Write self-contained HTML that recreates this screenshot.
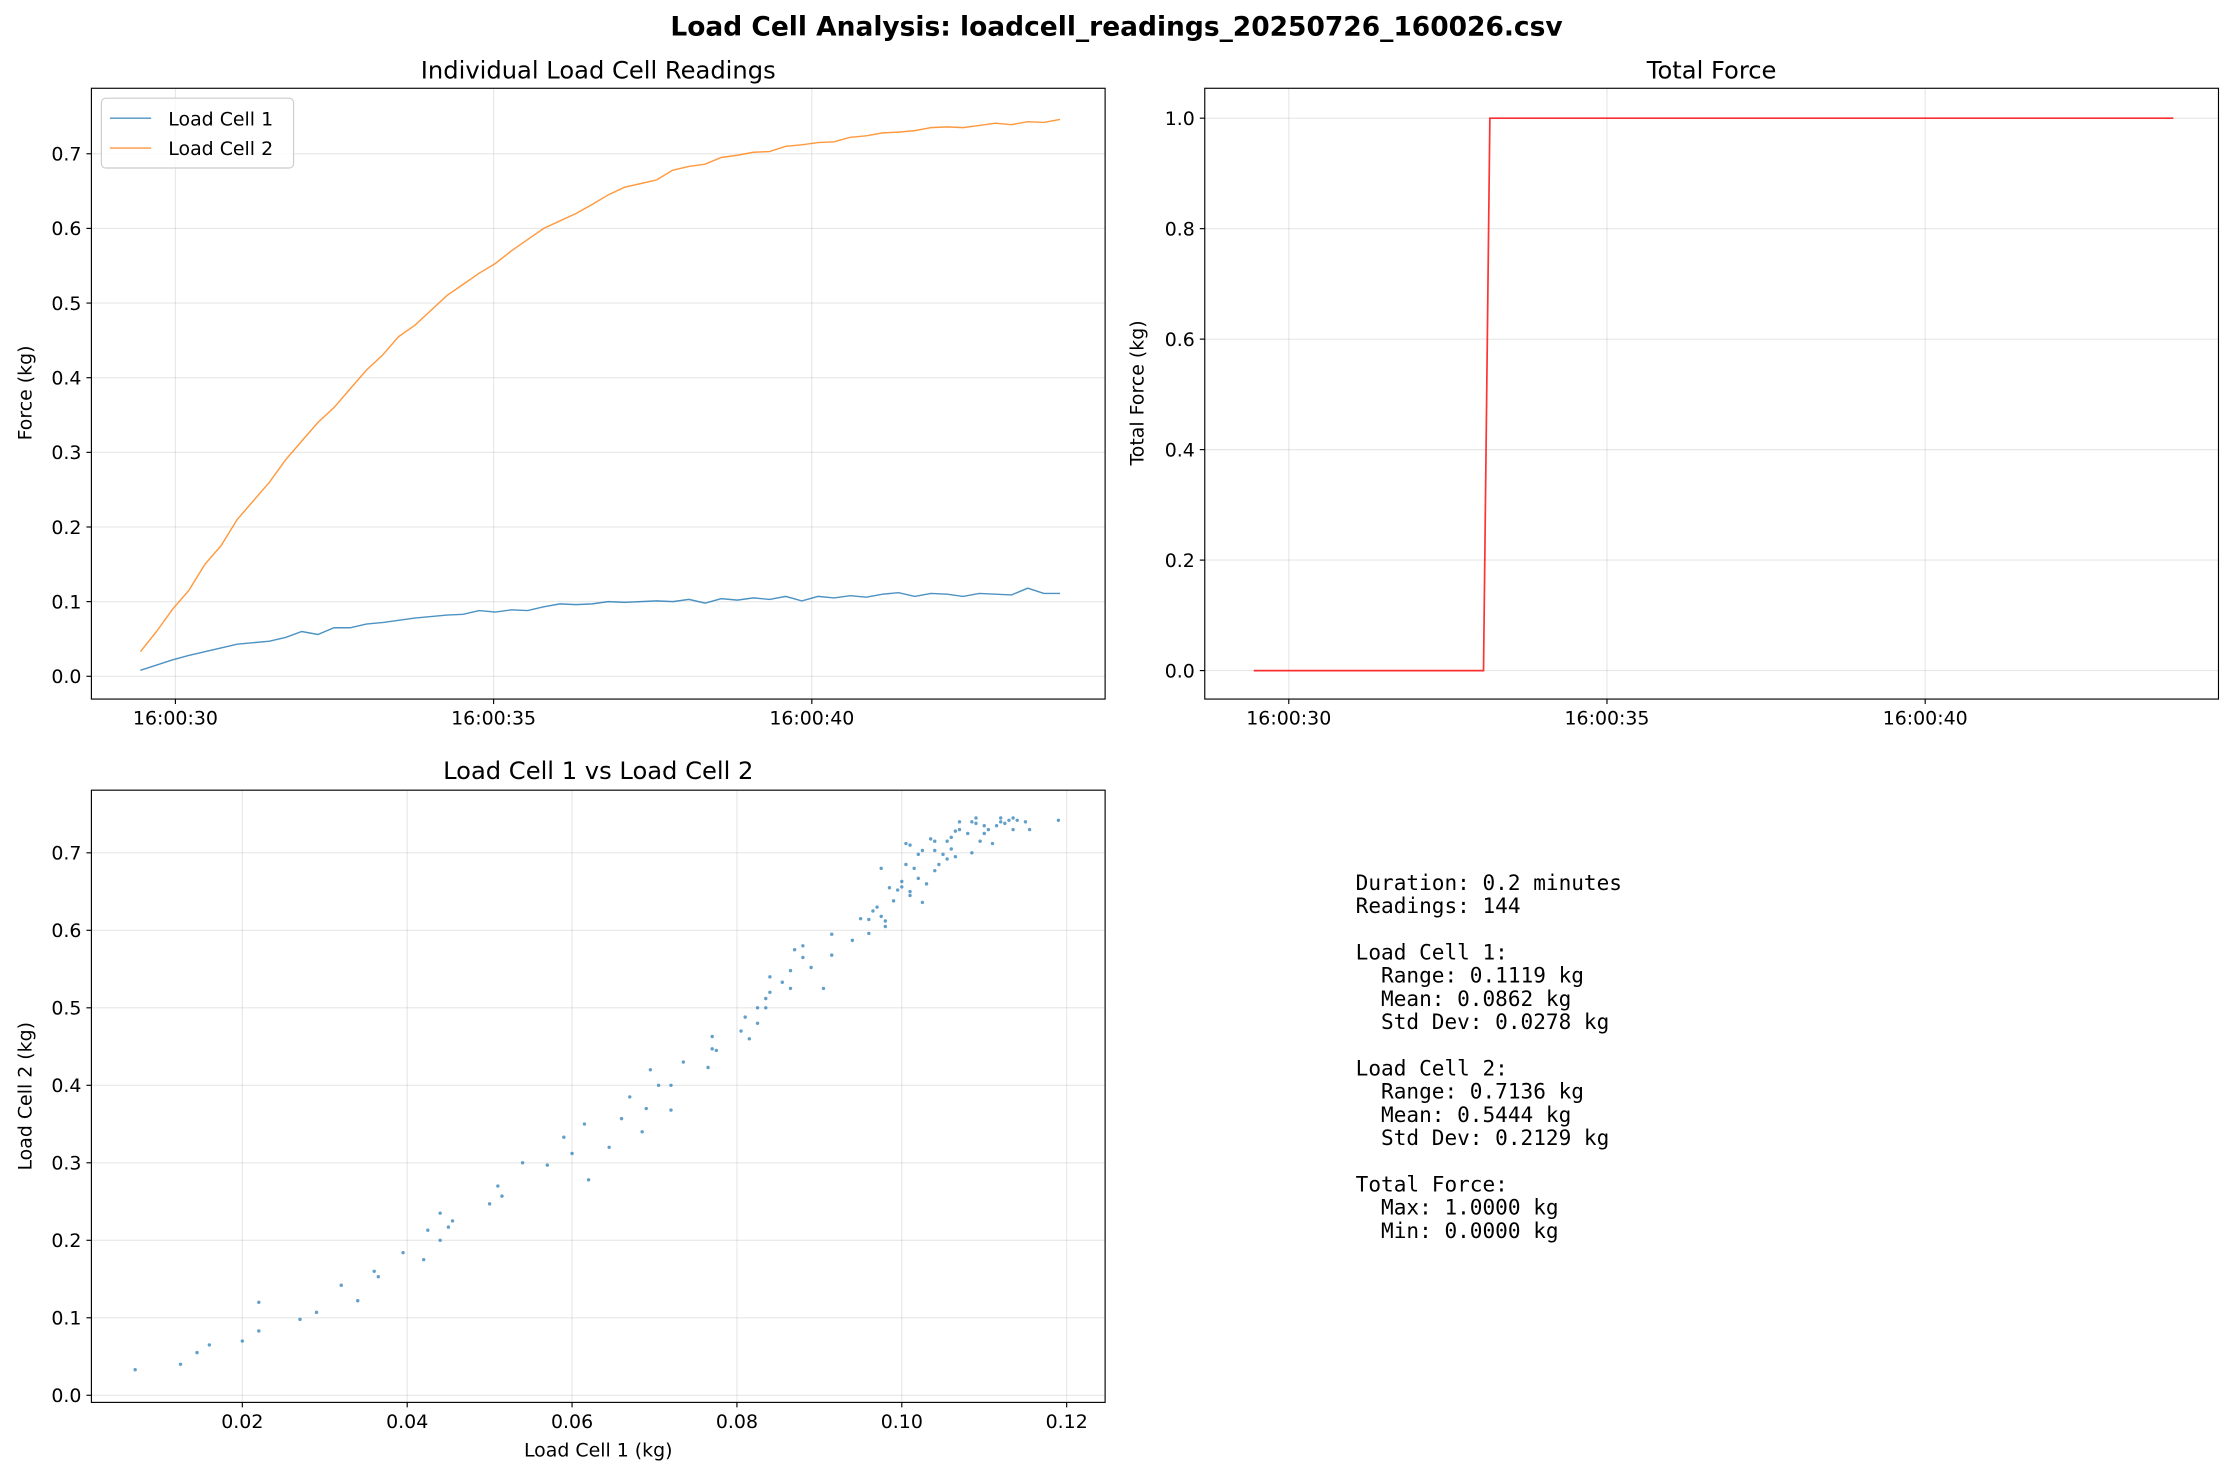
<!DOCTYPE html>
<html><head><meta charset="utf-8"><style>
html,body{margin:0;padding:0;background:#fff;}
svg{display:block;font-family:"DejaVu Sans","Liberation Sans",sans-serif;}
</style></head><body>
<svg id="fig" width="2233" height="1475" viewBox="0 0 1568 1036" xmlns="http://www.w3.org/2000/svg">
<rect width="1568" height="1036" fill="#fff"/>
<text x="784" y="25" text-anchor="middle" font-size="18.6" font-weight="bold">Load Cell Analysis: loadcell_readings_20250726_160026.csv</text>
<g id="ax1"></g>
<g id="ax2"></g>
<g id="ax3"></g>
<g font-family="'DejaVu Sans Mono','Liberation Mono',monospace" font-size="14.8">
<text x="952" y="625">Duration: 0.2 minutes</text>
<text x="952" y="641.3">Readings: 144</text>
<text x="952" y="673.9">Load Cell 1:</text>
<text x="952" y="690.2" xml:space="preserve">  Range: 0.1119 kg</text>
<text x="952" y="706.5" xml:space="preserve">  Mean: 0.0862 kg</text>
<text x="952" y="722.8" xml:space="preserve">  Std Dev: 0.0278 kg</text>
<text x="952" y="755.4">Load Cell 2:</text>
<text x="952" y="771.7" xml:space="preserve">  Range: 0.7136 kg</text>
<text x="952" y="788" xml:space="preserve">  Mean: 0.5444 kg</text>
<text x="952" y="804.3" xml:space="preserve">  Std Dev: 0.2129 kg</text>
<text x="952" y="836.9">Total Force:</text>
<text x="952" y="853.2" xml:space="preserve">  Max: 1.0000 kg</text>
<text x="952" y="869.5" xml:space="preserve">  Min: 0.0000 kg</text>
</g>
</svg>
<script>
// ---- data ----
const startTime = 29.45;   // seconds past 16:00
const sampleStep = 0.2535; // seconds between plotted samples
const cell1 = [0.008,0.015,0.022,0.028,0.033,0.038,0.043,0.045,0.047,0.052,0.06,0.056,0.065,0.065,0.07,0.072,0.075,0.078,0.08,0.082,0.083,0.088,0.086,0.089,0.088,0.093,0.097,0.096,0.097,0.1,0.099,0.1,0.101,0.1,0.103,0.098,0.104,0.102,0.105,0.103,0.107,0.101,0.107,0.105,0.108,0.106,0.11,0.112,0.107,0.111,0.11,0.107,0.111,0.11,0.109,0.118,0.111,0.111];
const cell2 = [0.033,0.06,0.09,0.115,0.15,0.175,0.21,0.235,0.26,0.29,0.315,0.34,0.36,0.385,0.41,0.43,0.455,0.47,0.49,0.51,0.525,0.54,0.553,0.57,0.585,0.6,0.61,0.62,0.632,0.645,0.655,0.66,0.665,0.678,0.683,0.686,0.695,0.698,0.702,0.703,0.71,0.712,0.715,0.716,0.722,0.724,0.728,0.729,0.731,0.735,0.736,0.735,0.738,0.741,0.739,0.743,0.742,0.746];
const totalTimes = [29.45,33.06,33.16,43.9];
const totalValues = [0,0,1,1];
const scatterX = [0.007,0.0125,0.0145,0.016,0.02,0.022,0.022,0.027,0.029,0.032,0.034,0.036,0.0365,0.0395,0.042,0.0425,0.044,0.044,0.045,0.0455,0.05,0.051,0.0515,0.054,0.057,0.059,0.06,0.0615,0.062,0.0645,0.066,0.067,0.0685,0.069,0.0695,0.0705,0.072,0.072,0.0735,0.0765,0.077,0.077,0.0775,0.0805,0.081,0.0815,0.0825,0.0825,0.0835,0.0835,0.084,0.084,0.0855,0.0865,0.0865,0.087,0.088,0.088,0.089,0.0905,0.0915,0.0915,0.094,0.095,0.096,0.096,0.0965,0.097,0.0975,0.0975,0.098,0.098,0.0985,0.099,0.0995,0.1,0.1,0.1005,0.1005,0.101,0.101,0.101,0.1015,0.102,0.102,0.1025,0.1025,0.103,0.1035,0.104,0.104,0.104,0.1045,0.105,0.1055,0.1055,0.106,0.106,0.1065,0.1065,0.107,0.107,0.108,0.1085,0.1085,0.109,0.109,0.1095,0.11,0.11,0.1105,0.111,0.1115,0.112,0.112,0.1125,0.113,0.1135,0.1135,0.114,0.115,0.1155,0.119];
const scatterY = [0.033,0.04,0.055,0.065,0.07,0.083,0.12,0.098,0.107,0.142,0.122,0.16,0.153,0.184,0.175,0.213,0.2,0.235,0.217,0.225,0.247,0.27,0.257,0.3,0.297,0.333,0.312,0.35,0.278,0.32,0.357,0.385,0.34,0.37,0.42,0.4,0.4,0.368,0.43,0.423,0.447,0.463,0.445,0.47,0.488,0.46,0.5,0.48,0.512,0.5,0.52,0.54,0.533,0.525,0.548,0.575,0.565,0.58,0.552,0.525,0.595,0.568,0.587,0.615,0.596,0.614,0.625,0.63,0.68,0.618,0.605,0.612,0.655,0.638,0.652,0.663,0.656,0.685,0.712,0.71,0.645,0.65,0.68,0.667,0.698,0.636,0.703,0.66,0.718,0.715,0.703,0.677,0.685,0.698,0.692,0.715,0.72,0.705,0.695,0.728,0.73,0.74,0.725,0.74,0.7,0.745,0.738,0.715,0.735,0.725,0.73,0.712,0.735,0.74,0.745,0.738,0.742,0.73,0.745,0.742,0.74,0.73,0.742];
const timeTicks = [30,35,40];
const timeTickLabels = ["16:00:30","16:00:35","16:00:40"];
const forceTicks = [0,0.1,0.2,0.3,0.4,0.5,0.6,0.7];
const totalTicks = [0,0.2,0.4,0.6,0.8,1.0];
const scatterXTicks = [0.02,0.04,0.06,0.08,0.10,0.12];

const NS = "http://www.w3.org/2000/svg";
function mk(parent, tag, attrs){const e=document.createElementNS(NS,tag);for(const k in attrs)e.setAttribute(k,attrs[k]);parent.appendChild(e);return e;}
function lin(d0,d1,r0,r1){return v=>r0+(v-d0)*(r1-r0)/(d1-d0);}

function axes(g, box, sx, sy, xt, xl, yt, yl){
  xt.forEach(v=>{const l=mk(g,'line',{x1:sx(v),x2:sx(v),y1:box.y0,y2:box.y1,stroke:'#b0b0b0','stroke-opacity':0.3,'stroke-width':0.8});
    
    });
  yt.forEach(v=>{const l=mk(g,'line',{x1:box.x0,x2:box.x1,y1:sy(v),y2:sy(v),stroke:'#b0b0b0','stroke-opacity':0.3,'stroke-width':0.8});
    
    });
  xt.forEach((v,i)=>{mk(g,'line',{x1:sx(v),x2:sx(v),y1:box.y1,y2:box.y1+3.5,stroke:'#000','stroke-width':0.8});
    const t=mk(g,'text',{x:sx(v),y:box.y1+18,'text-anchor':'middle','font-size':13.3});t.textContent=xl[i];
    
    });
  yt.forEach((v,i)=>{mk(g,'line',{x1:box.x0-3.5,x2:box.x0,y1:sy(v),y2:sy(v),stroke:'#000','stroke-width':0.8});
    const t=mk(g,'text',{x:box.x0-7,y:sy(v)+4.8,'text-anchor':'end','font-size':13.3});t.textContent=yl[i];
    
    });
}
function frame(g,box){const r=mk(g,'rect',{x:box.x0,y:box.y0,width:box.x1-box.x0,height:box.y1-box.y0,fill:'none',stroke:'#000','stroke-width':0.8});
  
  }
function label(g,x,y,txt,name,size,rot){const t=mk(g,'text',{x:x,y:y,'text-anchor':'middle','font-size':size});
  if(rot)t.setAttribute('transform','rotate(-90 '+x+' '+y+')');t.textContent=txt;
  
  }

// ---- Chart 1 ----
(function(){
  const g=document.getElementById('ax1');
  const box={x0:64,x1:776,y0:62,y1:491};
  const sx=lin(30,40,123,570), sy=lin(0,0.7,475,108);
  axes(g,box,sx,sy,timeTicks,timeTickLabels,forceTicks,forceTicks.map(v=>v.toFixed(1)));
  const times=cell1.map((_,i)=>startTime+i*sampleStep);
  [[cell1,'#1f77b4','load-cell-1-line'],[cell2,'#ff7f0e','load-cell-2-line']].forEach(([arr,c,n])=>{
    const p=mk(g,'polyline',{points:arr.map((v,i)=>sx(times[i]).toFixed(2)+','+sy(v).toFixed(2)).join(' '),fill:'none',stroke:c,'stroke-opacity':0.8,'stroke-width':1});
    
    
  });
  frame(g,box);
  label(g,420,55,'Individual Load Cell Readings','chart-title',17);
  label(g,22,276,'Force (kg)','y-axis-title',13.3,true);
  const lg=mk(g,'g',{});
  
  
  mk(lg,'rect',{x:71,y:69,width:135,height:49,rx:3,fill:'#fff','fill-opacity':0.8,stroke:'#ccc','stroke-width':0.8});
  [['Load Cell 1','#1f77b4',83],['Load Cell 2','#ff7f0e',104]].forEach(([t,c,y])=>{
    mk(lg,'line',{x1:77,x2:106,y1:y,y2:y,stroke:c,'stroke-opacity':0.8,'stroke-width':1});
    const tx=mk(lg,'text',{x:118,y:y+5,'font-size':13.3});tx.textContent=t;
    
    
  });
})();

// ---- Chart 2 ----
(function(){
  const g=document.getElementById('ax2');
  const box={x0:846,x1:1558,y0:62,y1:491};
  const sx=lin(30,40,905,1352), sy=lin(0,1,471,83);
  axes(g,box,sx,sy,timeTicks,timeTickLabels,totalTicks,totalTicks.map(v=>v.toFixed(1)));
  const p=mk(g,'polyline',{points:totalTimes.map((t,i)=>sx(t).toFixed(2)+','+sy(totalValues[i]).toFixed(2)).join(' '),fill:'none',stroke:'#ff0000','stroke-opacity':0.8,'stroke-width':1.2});
  
  
  frame(g,box);
  label(g,1202,55,'Total Force','chart-title',17);
  label(g,803,276,'Total Force (kg)','y-axis-title',13.3,true);
})();

// ---- Chart 3 ----
(function(){
  const g=document.getElementById('ax3');
  const box={x0:64,x1:776,y0:555,y1:985};
  const sx=lin(0.02,0.12,170,749), sy=lin(0,0.7,980,599);
  axes(g,box,sx,sy,scatterXTicks,scatterXTicks.map(v=>v.toFixed(2)),forceTicks,forceTicks.map(v=>v.toFixed(1)));
  scatterX.forEach((x,i)=>{
    const c=mk(g,'circle',{cx:sx(x).toFixed(2),cy:sy(scatterY[i]).toFixed(2),r:1.2,fill:'#1f77b4','fill-opacity':0.7});
    
    
  });
  frame(g,box);
  label(g,420,547,'Load Cell 1 vs Load Cell 2','chart-title',17);
  label(g,420,1023,'Load Cell 1 (kg)','x-axis-title',13.3);
  label(g,22,770,'Load Cell 2 (kg)','y-axis-title',13.3,true);
})();
</script>
</body></html>
